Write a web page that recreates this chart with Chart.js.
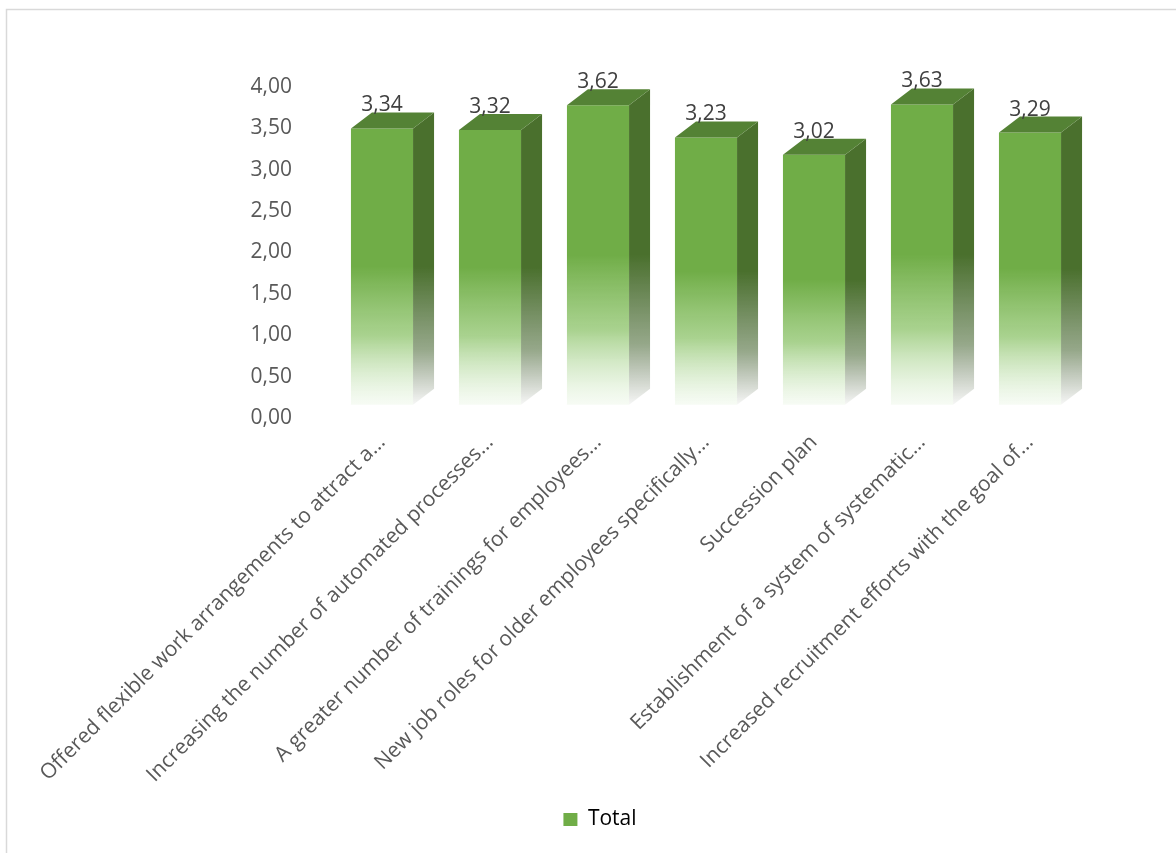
<!DOCTYPE html>
<html>
<head>
<meta charset="utf-8">
<script src="https://cdn.jsdelivr.net/npm/chart.js@4.4.1/dist/chart.umd.min.js"></script>
<style>
    html, body { margin: 0; padding: 0; background: #fff; }
</style>
</head>
<body>
<canvas id="total-chart" width="1176" height="853"></canvas>
<script>
// Data
const categories = [
    'Offered flexible work arrangements to attract a...',
    'Increasing the number of automated processes...',
    'A greater number of trainings for employees...',
    'New job roles for older employees specifically...',
    'Succession plan',
    'Establishment of a system of systematic...',
    'Increased recruitment efforts with the goal of...'
];
const totals = [3.34, 3.32, 3.62, 3.23, 3.02, 3.63, 3.29];
const seriesName = 'Total';
const yMin = 0;
const yMax = 4;
const yStep = 0.5;

const fmt = v => v.toFixed(2).replace('.', ',');

// 3d look
const depthX = 21;
const depthY = 16;

const bar3d = {
    id: 'bar3d',
    beforeDraw(chart) {
        const ctx = chart.ctx;
        ctx.save();
        ctx.strokeStyle = '#d9d9d9';
        ctx.lineWidth = 1.5;
        ctx.beginPath();
        ctx.moveTo(6.5, 860);
        ctx.lineTo(6.5, 9.5);
        ctx.lineTo(1180, 9.5);
        ctx.stroke();
        ctx.restore();
    },
    afterDatasetsDraw(chart) {
        const ctx = chart.ctx;
        ctx.save();
        chart.getDatasetMeta(0).data.forEach((bar, i) => {
            const half = bar.width / 2;
            const left = bar.x - half, right = bar.x + half;
            const top = bar.y, base = bar.base;

            // side face
            const gs = ctx.createLinearGradient(0, top, 0, base);
            gs.addColorStop(0, 'rgba(74,112,45,1)');
            gs.addColorStop(0.5, 'rgba(74,112,45,1)');
            gs.addColorStop(0.8, 'rgba(80,110,60,0.6)');
            gs.addColorStop(1, 'rgba(80,95,70,0.05)');
            ctx.fillStyle = gs;
            ctx.beginPath();
            ctx.moveTo(right, top);
            ctx.lineTo(right + depthX, top - depthY);
            ctx.lineTo(right + depthX, base - depthY);
            ctx.lineTo(right, base);
            ctx.closePath();
            ctx.fill();

            // top face
            ctx.fillStyle = '#548235';
            ctx.beginPath();
            ctx.moveTo(left, top);
            ctx.lineTo(left + depthX, top - depthY);
            ctx.lineTo(right + depthX, top - depthY);
            ctx.lineTo(right, top);
            ctx.closePath();
            ctx.fill();

            // value label
            ctx.fillStyle = '#404040';
            ctx.font = "21px 'Open Sans', sans-serif";
            ctx.textAlign = 'center';
            ctx.textBaseline = 'alphabetic';
            ctx.fillText(fmt(totals[i]), bar.x, top - depthY - 1);
        });
        ctx.restore();
    }
};

function frontColor(c) {
    const chart = c.chart;
    const ys = chart.scales.yb;
    if (!chart.chartArea || !ys) return '#70AD47';
    const top = ys.getPixelForValue(totals[c.dataIndex]);
    const base = ys.getPixelForValue(0);
    const g = chart.ctx.createLinearGradient(0, top, 0, base);
    g.addColorStop(0, '#70AD47');
    g.addColorStop(0.5, '#70AD47');
    g.addColorStop(0.75, 'rgba(140,195,105,0.75)');
    g.addColorStop(1, 'rgba(200,230,185,0.15)');
    return g;
}

Chart.defaults.font.family = "'Open Sans', sans-serif";
Chart.defaults.font.size = 21;
Chart.defaults.color = '#595959';

const ctx = document.getElementById('total-chart').getContext('2d');
new Chart(ctx, {
    type: 'bar',
    data: {
        labels: categories,
        datasets: [{
            label: seriesName,
            data: totals,
            yAxisID: 'yb',
            backgroundColor: frontColor,
            borderWidth: 0,
            categoryPercentage: 1,
            barPercentage: 0.575
        }]
    },
    options: {
        responsive: false,
        animation: false,
        layout: {
            padding: { top: 87, left: 116, right: 92, bottom: 13 }
        },
        scales: {
            x: {
                grid: { display: false, drawTicks: false },
                border: { display: false },
                ticks: {
                    autoSkip: false,
                    minRotation: 45,
                    maxRotation: 45,
                    padding: 12,
                    color: '#595959'
                },
                afterFit: s => { s.height = 381; }
            },
            y: {
                position: 'left',
                min: yMin,
                max: yMax,
                grid: { display: false, drawTicks: false },
                border: { display: false },
                ticks: {
                    stepSize: yStep,
                    padding: 36,
                    color: '#595959',
                    callback: v => fmt(v)
                },
                afterFit: s => { s.width = 212; }
            },
            // bars sit a little above the axis floor, like the 3d view
            yb: {
                display: false,
                min: -0.16,
                max: 3.84
            }
        },
        plugins: {
            legend: {
                position: 'bottom',
                labels: {
                    boxWidth: 14,
                    boxHeight: 13,
                    padding: 10,
                    color: '#595959',
                    generateLabels: chart => [{
                        text: seriesName,
                        fillStyle: '#70AD47',
                        strokeStyle: '#70AD47',
                        lineWidth: 0,
                        datasetIndex: 0
                    }]
                }
            },
            tooltip: { enabled: false }
        }
    },
    plugins: [bar3d]
});
</script>
</body>
</html>
